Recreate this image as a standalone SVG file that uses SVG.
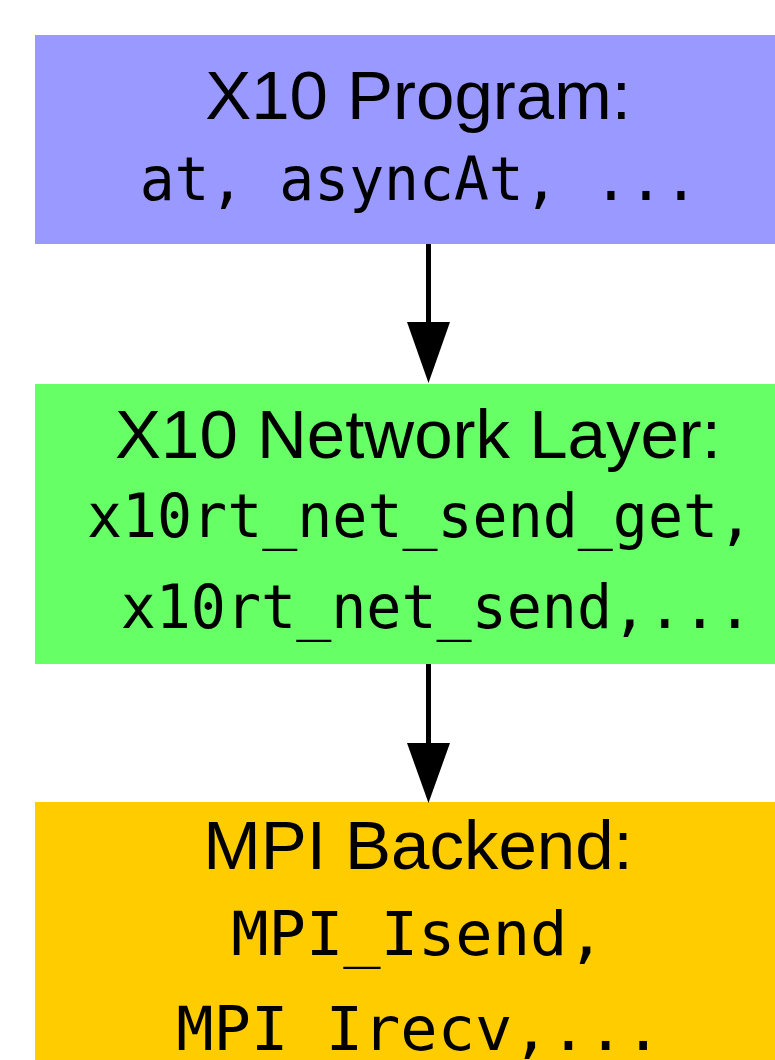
<svg xmlns="http://www.w3.org/2000/svg" width="775" height="1060" viewBox="0 0 775 1060">
  <style>
    .sans { font-family: "Liberation Sans", Arial, sans-serif; font-size: 69px; fill: #000; text-anchor: middle; }
    .mono { font-family: "DejaVu Sans Mono", "Liberation Mono", monospace; font-size: 61px; fill: #000; text-anchor: middle; white-space: pre; }
    .edge { stroke: #000; stroke-width: 5; fill: none; }
    .head { fill: #000; }
  </style>
  <rect width="775" height="1060" fill="#ffffff"/>

  <g id="x10-program">
    <rect x="35" y="35" width="800" height="209" fill="#9999ff"/>
    <text class="sans" x="418" y="119">X10 Program:</text>
    <text class="mono" transform="translate(419,200) scale(0.951,1)">at, asyncAt, ...</text>
  </g>

  <g id="x10-network-layer">
    <rect x="35" y="384" width="800" height="280" fill="#66ff66"/>
    <text class="sans" x="418" y="458">X10 Network Layer:</text>
    <text class="mono" transform="translate(420,537) scale(0.955,1)">x10rt_net_send_get,</text>
    <text class="mono" transform="translate(419,628) scale(0.956,1)" xml:space="preserve"> x10rt_net_send,...</text>
  </g>

  <g id="mpi-backend">
    <rect x="35" y="802" width="800" height="300" fill="#ffcc00"/>
    <text class="sans" x="418" y="869">MPI Backend:</text>
    <text class="mono" transform="translate(418,955) scale(1.017,1)">MPI_Isend,</text>
    <text class="mono" transform="translate(419,1050) scale(1.017,1)">MPI_Irecv,...</text>
  </g>

  <g id="connectors">
    <line class="edge" x1="428.5" y1="244" x2="428.5" y2="324"/>
    <polygon class="head" points="407,322 450,322 428.5,383"/>
    <line class="edge" x1="428.5" y1="664" x2="428.5" y2="745"/>
    <polygon class="head" points="407,743 450,743 428.5,803"/>
  </g>
</svg>
